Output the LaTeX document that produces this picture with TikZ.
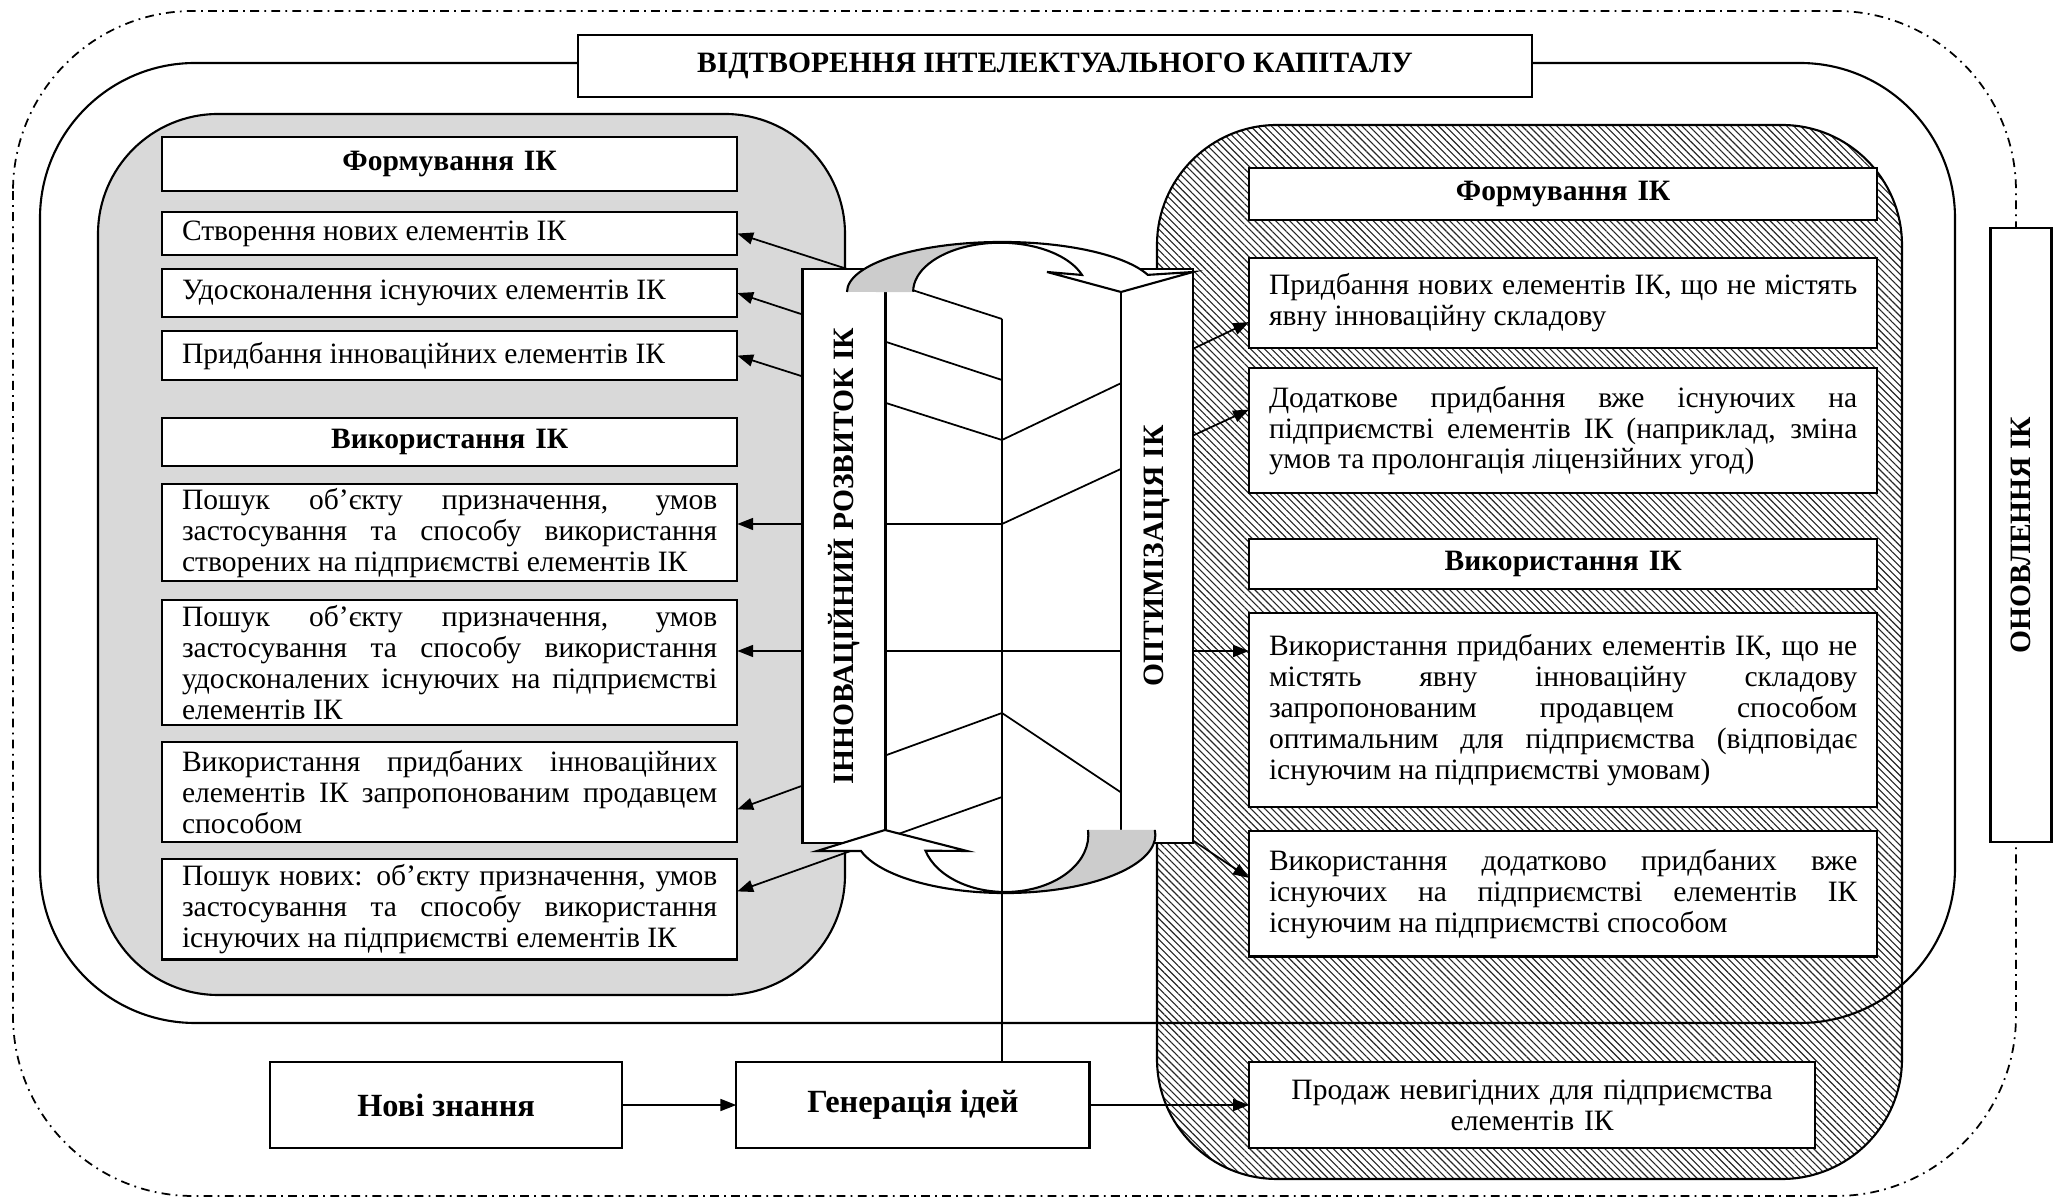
\documentclass[tikz,border=0pt]{standalone}
\usepackage{fontspec}
\setmainfont{Liberation Serif}
\usetikzlibrary{arrows.meta, positioning, patterns.meta}

\begin{document}
\begin{tikzpicture}[x=0.01cm, y=-0.01cm, font=\fontsize{8.4}{8.8}\selectfont]

    % Define styles for boxes and connectors
    \tikzstyle{lbox} = [rectangle, draw=black, line width=0.6pt, fill=white, outer sep=0pt, text width=5.35cm, inner xsep=0.2cm, inner ysep=0.3pt, align=justify]
    \tikzstyle{rbox} = [lbox, text width=5.88cm]
    \tikzstyle{head} = [font=\fontsize{8.4}{8.8}\selectfont\bfseries, align=center]
    \tikzstyle{vbox} = [rectangle, draw=black, line width=0.6pt, fill=white, outer sep=0pt, rotate=90, font=\fontsize{8.4}{8.8}\selectfont\bfseries]
    \tikzstyle{bigbox} = [rectangle, draw=black, line width=0.6pt, fill=white, outer sep=0pt, minimum width=3.52cm, minimum height=0.86cm, font=\fontsize{9.2}{10}\selectfont\bfseries]
    \tikzstyle{arrow} = [line width=0.5pt, -{Triangle[length=4.5pt, width=3.4pt]}]
    \tikzstyle{link} = [line width=0.5pt]

    \useasboundingbox (0,0) rectangle (2062,1201);

    % Frames in the background
    \draw [line width=0.5pt, rounded corners=1.8cm, dash pattern=on 2.5pt off 1.5pt on 0.5pt off 1.5pt] (13,11) rectangle (2016,1196);
    \draw [line width=0.6pt, fill=black!15, rounded corners=1.2cm] (98,114) rectangle (845,995);
    \draw [line width=0.6pt, rounded corners=1.2cm, pattern={Lines[angle=-45, distance=1.4pt, line width=0.32pt]}, pattern color=black!85] (1157,125) rectangle (1902,1179);
    \draw [line width=0.6pt, rounded corners=1.55cm] (40,63) rectangle (1955,1023);

    % Title and side box
    \node (title) [rectangle, draw=black, line width=0.6pt, fill=white, minimum width=9.53cm, minimum height=0.62cm, head] at (1055,66) {ВІДТВОРЕННЯ ІНТЕЛЕКТУАЛЬНОГО КАПІТАЛУ};
    \node (renew) [vbox, minimum width=6.13cm, minimum height=0.61cm] at (2021,535) {ОНОВЛЕННЯ ІК};

    % Left column
    \node (fl) [lbox, head, anchor=north west, minimum height=0.54cm] at (162,137) {Формування ІК};
    \node (cl1) [lbox, below=0.21cm of fl, minimum height=0.43cm] {Створення нових елементів ІК};
    \node (cl2) [lbox, below=0.14cm of cl1, minimum height=0.48cm] {Удосконалення існуючих елементів ІК};
    \node (cl3) [lbox, below=0.14cm of cl2, minimum height=0.49cm] {Придбання інноваційних елементів ІК};
    \node (ul) [lbox, head, below=0.38cm of cl3, minimum height=0.48cm] {Використання ІК};
    \node (ul1) [lbox, below=0.18cm of ul, minimum height=0.97cm] {Пошук об’єкту призначення, умов\linebreak застосування та способу використання\linebreak створених на підприємстві елементів ІК};
    \node (ul2) [lbox, below=0.19cm of ul1, minimum height=1.25cm] {Пошук об’єкту призначення, умов\linebreak застосування та способу використання\linebreak удосконалених існуючих на підприємстві\linebreak елементів ІК};
    \node (ul3) [lbox, below=0.17cm of ul2, minimum height=1.00cm] {Використання придбаних інноваційних\linebreak елементів ІК запропонованим продавцем\linebreak способом};
    \node (ul4) [lbox, below=0.17cm of ul3, minimum height=1.00cm] {Пошук нових: об’єкту призначення, умов\linebreak застосування та способу використання\linebreak існуючих на підприємстві елементів ІК};

    % Right column
    \node (fr) [rbox, head, anchor=north west, minimum height=0.52cm] at (1249,168) {Формування ІК};
    \node (cr1) [rbox, below=0.38cm of fr, minimum height=0.90cm] {Придбання нових елементів ІК, що не містять\linebreak явну інноваційну складову};
    \node (cr2) [rbox, below=0.20cm of cr1, minimum height=1.25cm] {Додаткове придбання вже існуючих на\linebreak підприємстві елементів ІК (наприклад, зміна\linebreak умов та пролонгація ліцензійних угод)};
    \node (ur) [rbox, head, below=0.46cm of cr2, minimum height=0.50cm] {Використання ІК};
    \node (ur1) [rbox, below=0.24cm of ur, minimum height=1.94cm] {Використання придбаних елементів ІК, що не\linebreak містять явну інноваційну складову\linebreak запропонованим продавцем способом\linebreak оптимальним для підприємства (відповідає\linebreak існуючим на підприємстві умовам)};
    \node (ur2) [rbox, below=0.24cm of ur1, minimum height=1.25cm] {Використання додатково придбаних вже\linebreak існуючих на підприємстві елементів ІК\linebreak існуючим на підприємстві способом};

    % Bottom row
    \node (know) [bigbox, anchor=north west] at (270,1062) {Нові знання};
    \node (ideas) [bigbox, right=1.14cm of know, minimum width=3.53cm] {Генерація ідей};
    \node (sale) [rbox, anchor=north west, text width=5.26cm, align=center, minimum height=0.86cm] at (1249,1062) {Продаж невигідних для підприємства\\ елементів ІК};

    % Points on the axis between the two columns
    \coordinate (c1) at (1002,319);
    \coordinate (c2) at (1002,380);
    \coordinate (c3) at (1002,440);
    \coordinate (c4) at (1002,524);
    \coordinate (c5) at (1002,651);
    \coordinate (c6) at (1002,713);
    \coordinate (c7) at (1002,797);

    % Draw arrows
    \draw [arrow] (c1) -- (cl1.east);
    \draw [arrow] (c2) -- (cl2.east);
    \draw [arrow] (c3) -- (cl3.east);
    \draw [arrow] (c4) -- (ul1.east |- c4);
    \draw [arrow] (c5) -- (ul2.east |- c5);
    \draw [arrow] (c6) -- ([yshift=-0.17cm]ul3.east);
    \draw [arrow] (c7) -- ([yshift=0.18cm]ul4.east);
    \draw [arrow] (c3) -- ([yshift=-0.19cm]cr1.west);
    \draw [arrow] (c4) -- ([yshift=0.21cm]cr2.west);
    \draw [arrow] (c5) -- (ur1.west |- c5);
    \draw [arrow] (c6) -- ([yshift=0.16cm]ur2.west);
    \draw [link] (c1) -- (c1 |- ideas.north);
    \draw [arrow] (know) -- (ideas);
    \draw [arrow] (ideas) -- (sale);

    % Vertical boxes
    \node (innov) [vbox, minimum width=5.73cm, minimum height=0.83cm] at (844,556) {ІННОВАЦІЙНИЙ РОЗВИТОК ІК};
    \node (optim) [vbox, minimum width=5.73cm, minimum height=0.72cm] at (1157,556) {ОПТИМІЗАЦІЯ ІК};

    % Upper curved arrow
    \fill [white] (847,292) arc[start angle=180, end angle=20, x radius=1.55cm, y radius=0.5cm] -- (1193,272) -- (1121,292) -- (1047,272) -- (1082,275) arc[start angle=20, end angle=180, x radius=0.87cm, y radius=0.49cm] -- cycle;
    \fill [black!20] (847,292) arc[start angle=180, end angle=90, x radius=1.55cm, y radius=0.5cm] -- (1000,243) arc[start angle=90, end angle=180, x radius=0.87cm, y radius=0.49cm] -- cycle;
    \draw [line width=0.6pt] (847,292) arc[start angle=180, end angle=20, x radius=1.55cm, y radius=0.5cm] -- (1193,272) -- (1121,292) -- (1047,272) -- (1082,275) arc[start angle=20, end angle=180, x radius=0.87cm, y radius=0.49cm];

    % Lower curved arrow
    \fill [white] (861,851) arc[start angle=196, end angle=365, x radius=1.5cm, y radius=0.58cm] -- (1088,830) arc[start angle=5, end angle=-164, x radius=0.83cm, y radius=0.57cm] -- (967,851) -- (885,830) -- (817,851) -- cycle;
    \fill [black!20] (1005,893) arc[start angle=270, end angle=365, x radius=1.5cm, y radius=0.58cm] -- (1088,830) arc[start angle=5, end angle=-90, x radius=0.83cm, y radius=0.57cm] -- cycle;
    \draw [line width=0.6pt] (1088,830) arc[start angle=5, end angle=-164, x radius=0.83cm, y radius=0.57cm] -- (967,851) -- (885,830) -- (817,851) -- (861,851) arc[start angle=196, end angle=365, x radius=1.5cm, y radius=0.58cm];

\end{tikzpicture}
\end{document}
